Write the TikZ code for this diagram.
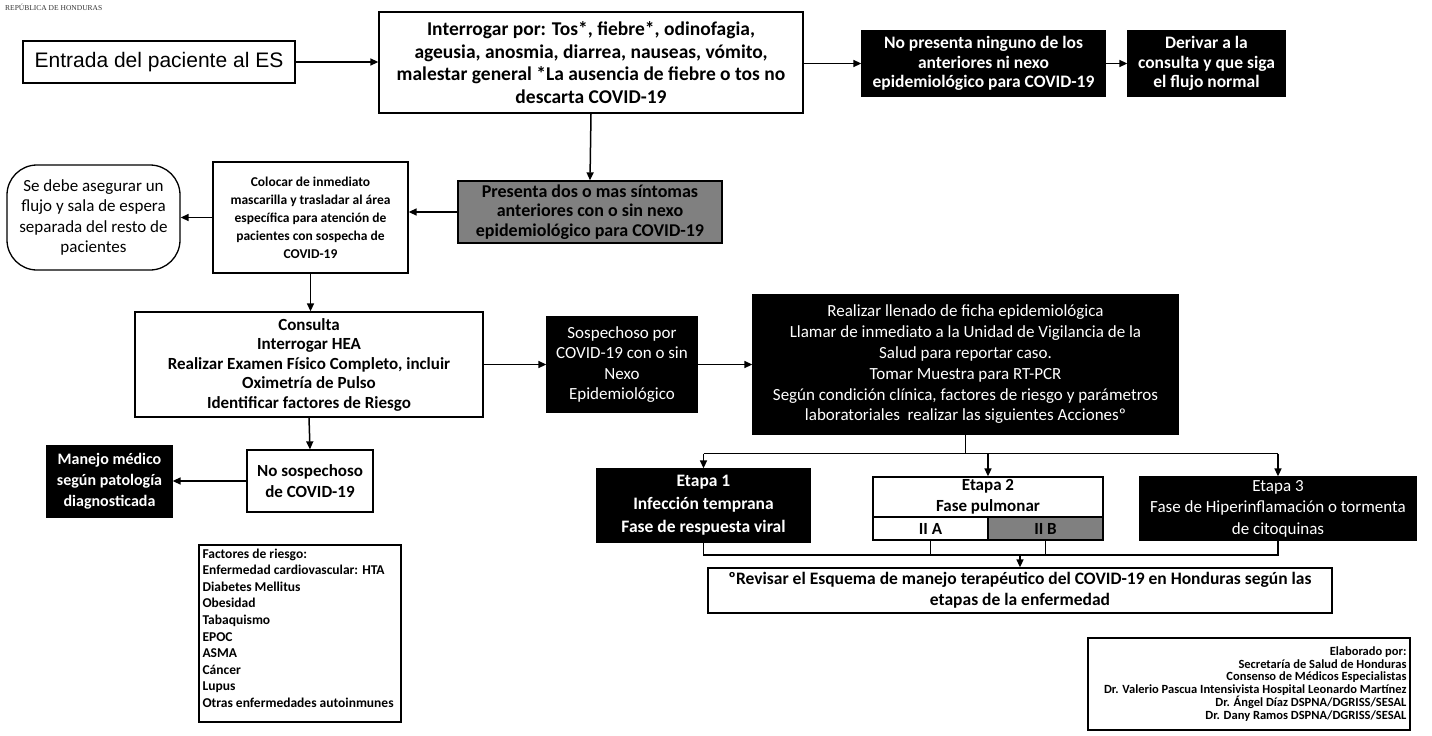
\documentclass[tikz,border=0pt]{standalone}
\usepackage{fontspec}
\setmainfont{Carlito}
\newfontfamily\arialf{Liberation Sans}
\newfontfamily\headf{Liberation Serif}
\usetikzlibrary{arrows.meta}
\newcommand{\setfs}[2]{\fontsize{#1pt}{#2pt}\selectfont}
\begin{document}
\begin{tikzpicture}[x=1pt,y=-1pt,
  box/.style={draw=black, line width=1.3pt, inner sep=0pt, align=center, text=black},
  dark/.style={box, fill=black, text=white},
  grey/.style={box, fill=black!50},
  link/.style={line width=1.5pt, -{Triangle[length=8pt,width=7pt]}},
  seg/.style={line width=1.4pt},
]
\useasboundingbox (0,0) rectangle (1432,736);
\fill[white] (0,0) rectangle (1432,736);

% header
\node[anchor=west, inner sep=0pt, font=\headf\setfs{7.5}{8}, text=black!80] (head) at (5,7) {REPÚBLICA DE HONDURAS};

% top row
\node[box, minimum width=272pt, minimum height=42pt, font=\arialf\setfs{21}{24}] (entrada) at (159,62) {Entrada del paciente al ES};
\node[box, minimum width=424pt, minimum height=101pt, font=\bfseries\setfs{19.5}{22.5}] (interrogar) at (591,62.5)
  {Interrogar por: Tos*, fiebre*, odinofagia,\\ageusia, anosmia, diarrea, nauseas, vómito,\\malestar general *La ausencia de fiebre o tos no\\descarta COVID-19};
\node[dark, minimum width=243pt, minimum height=66pt, font=\bfseries\setfs{17.5}{19.5}] (nopres) at (983.5,63.5)
  {No presenta ninguno de los\\anteriores ni nexo\\epidemiológico para COVID-19};
\node[dark, minimum width=157pt, minimum height=66pt, font=\bfseries\setfs{17.5}{19.5}] (derivar) at (1206.5,63.5)
  {Derivar a la\\consulta y que siga\\el flujo normal};

% second row
\node[grey, minimum width=264pt, minimum height=62pt, font=\bfseries\setfs{18}{19.5}] (presenta) at (590,212)
  {Presenta dos o mas síntomas\\anteriores con o sin nexo\\epidemiológico para COVID-19};
\node[box, minimum width=195pt, minimum height=111pt, font=\bfseries\setfs{13.5}{18}] (colocar) at (310.5,217.5)
  {Colocar de inmediato\\mascarilla y trasladar al área\\específica para atención de\\pacientes con sospecha de\\COVID-19};
\node[box, rounded corners=30pt, minimum width=173pt, minimum height=105pt, font=\setfs{17}{20.5}] (seguro) at (93.5,217.5)
  {Se debe asegurar un\\flujo y sala de espera\\separada del resto de\\pacientes};

% third row
\node[box, minimum width=348pt, minimum height=105pt, font=\bfseries\setfs{17}{19.5}] (consulta) at (309,364.5)
  {Consulta\\Interrogar HEA\\Realizar Examen Físico Completo, incluir\\Oximetría de Pulso\\Identificar factores de Riesgo};
\node[dark, minimum width=150pt, minimum height=95pt, font=\setfs{17}{20.5}] (sosp) at (622,364.5)
  {Sospechoso por\\COVID-19 con o sin\\Nexo\\Epidemiológico};
\node[dark, minimum width=425pt, minimum height=139pt, font=\setfs{17}{20.8}] (bigbox) at (965.5,364.5)
  {Realizar llenado de ficha epidemiológica\\Llamar de inmediato a la Unidad de Vigilancia de la\\Salud para reportar caso.\\Tomar Muestra para RT-PCR\\Según condición clínica, factores de riesgo y parámetros\\laboratoriales\ \ realizar las siguientes Accionesº};

% stages
\node[dark, minimum width=213pt, minimum height=73pt, font=\bfseries\setfs{17.5}{23}] (etapa1) at (703.5,505.5)
  {Etapa 1\\Infección temprana\\Fase de respuesta viral};
\node[box, minimum width=230pt, minimum height=40pt, font=\bfseries\setfs{17}{21}] (etapa2) at (988,497)
  {Etapa 2\\Fase pulmonar};
\node[box, minimum width=115pt, minimum height=23pt, font=\bfseries\setfs{17}{18}] (iia) at (930.5,528.5) {II A};
\node[grey, minimum width=115pt, minimum height=23pt, font=\bfseries\setfs{17}{18}] (iib) at (1045.5,528.5) {II B};
\node[dark, minimum width=276pt, minimum height=63pt, font=\setfs{17}{21.5}] (etapa3) at (1278,508.5)
  {Etapa 3\\Fase de Hiperinflamación o tormenta\\de citoquinas};
\node[box, minimum width=624pt, minimum height=45pt, font=\bfseries\setfs{17.5}{21}] (revisar) at (1020,590.5)
  {ºRevisar el Esquema de manejo terapéutico del COVID-19 en Honduras según las\\etapas de la enfermedad};

% lower left
\node[box, minimum width=126pt, minimum height=62pt, font=\bfseries\setfs{17}{21}] (nososp) at (310,481)
  {No sospechoso\\de COVID-19};
\node[dark, minimum width=125pt, minimum height=71pt, font=\bfseries\setfs{16}{21}] (manejo) at (109.5,481.5)
  {Manejo médico\\según patología\\diagnosticada};

% risk factors
\node[box, minimum width=202pt, minimum height=177pt] (factores) at (300,633.5) {};
\node[anchor=north west, inner sep=0pt, align=left, font=\bfseries\setfs{13.5}{16.6}] (factxt) at ([xshift=4pt,yshift=-4pt]factores.north west)
  {Factores de riesgo:\\Enfermedad cardiovascular: HTA\\Diabetes Mellitus\\Obesidad\\Tabaquismo\\EPOC\\ASMA\\Cáncer\\Lupus\\Otras enfermedades autoinmunes};

% credits
\node[box, minimum width=322pt, minimum height=92pt] (elab) at (1249,684) {};
\node[anchor=north east, inner sep=0pt, align=right, font=\bfseries\setfs{12.5}{12.8}] (elabtxt) at ([xshift=-4pt,yshift=-9pt]elab.north east)
  {Elaborado por:\\Secretaría de Salud de Honduras\\Consenso de Médicos Especialistas\\Dr. Valerio Pascua Intensivista Hospital Leonardo Martínez\\Dr. Ángel Díaz DSPNA/DGRISS/SESAL\\Dr. Dany Ramos DSPNA/DGRISS/SESAL};

% connectors
\draw[link] (entrada.east) -- (entrada.east -| interrogar.west);
\draw[link] (interrogar.east |- nopres.west) -- (nopres.west);
\draw[link] (nopres.east) -- (derivar.west);
\draw[link] (interrogar.south) -- (presenta.north);
\draw[link] (presenta.west) -- (presenta.west -| colocar.east);
\draw[link] (colocar.west) -- (colocar.west -| seguro.east);
\draw[link] (colocar.south) -- (colocar.south |- consulta.north);
\draw[link] (consulta.east) -- (sosp.west);
\draw[link] (sosp.east) -- (bigbox.west);
\draw[link] (consulta.south) -- (nososp.north);
\draw[link] (nososp.west) -- (nososp.west -| manejo.east);

% branching to the stages
\draw[seg] (bigbox.south) -- ++(0,19) coordinate (br);
\draw[seg] (etapa1.north |- br) -- (etapa3.north |- br);
\draw[link] (etapa1.north |- br) -- (etapa1.north);
\draw[link] (etapa2.north |- br) -- (etapa2.north);
\draw[link] (etapa3.north |- br) -- (etapa3.north);

% merging into the note
\coordinate (mg) at (1020,555);
\draw[seg] (etapa1.south) -- (etapa1.south |- mg) -- (etapa3.south |- mg) -- (etapa3.south);
\draw[seg] (iia.south) -- (iia.south |- mg);
\draw[seg] (iib.south) -- (iib.south |- mg);
\draw[link] (mg) -- (revisar.north);
\end{tikzpicture}
\end{document}
